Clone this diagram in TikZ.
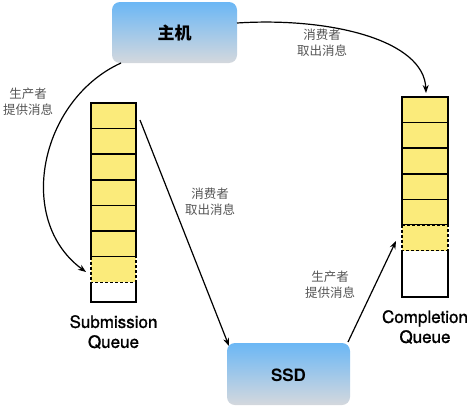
\documentclass[tikz,border=0pt]{standalone}
\usepackage{fontspec}
\setmainfont{TeX Gyre Heros}
\newfontfamily\medfont[FakeBold=1.2]{TeX Gyre Heros}
\newfontfamily\cjk{Noto Sans CJK SC}
\usetikzlibrary{arrows.meta}
\definecolor{qyellow}{HTML}{FBEB7B}
\definecolor{btop}{HTML}{6BB7F5}
\definecolor{bbot}{HTML}{D4D8DD}
\definecolor{lblgray}{HTML}{555555}
\tikzset{
  box/.style={rounded corners=8pt, top color=btop, bottom color=bbot, draw=none},
  cell/.style={draw=black, line width=1.7pt, fill=qyellow},
  dcell/.style={draw=black, line width=1.4pt, fill=qyellow, dash pattern=on 3pt off 2pt},
  qline/.style={line width=1.7pt},
  conn/.style={line width=1.2pt, -{Stealth[length=8pt,width=6pt]}},
  lbl/.style={font=\cjk\fontsize{12.5}{16}\selectfont, text=lblgray, align=center},
  qlbl/.style={font=\medfont\fontsize{17}{20}\selectfont, align=center},
}
\begin{document}
\begin{tikzpicture}[x=1pt,y=-1pt]
\useasboundingbox (0,0) rectangle (474,407);
% boxes
\path[box] (112,2) rectangle (237,63);
\node[font=\cjk\bfseries\fontsize{17}{20}\selectfont] (host) at (174.5,33) {主机};
\path[box] (227,343) rectangle (350,405);
\node[font=\bfseries\fontsize{17}{20}\selectfont] (ssd) at (288.5,375) {SSD};
% submission queue
\foreach \i in {0,...,5}{
  \path[cell] (91,{103+25.6*\i}) rectangle (136,{128.6+25.6*\i});
}
\draw[qline] (91,282.6) -- (91,302) -- (136,302) -- (136,282.6);
\path[dcell] (91,256.6) rectangle (136,282.2);
\node[qlbl] (sq) at (113.5,332) {Submission\\Queue};
% completion queue
\foreach \i in {0,...,4}{
  \path[cell] (402,{97+25.6*\i}) rectangle (448,{122.6+25.6*\i});
}
\draw[qline] (402,250.6) -- (402,297) -- (448,297) -- (448,250.6);
\path[dcell] (402,225) rectangle (448,250.6);
\node[qlbl] (cq) at (425,327) {Completion\\Queue};
% connector endpoints
\coordinate (h1) at (121,63);
\coordinate (sqin) at (86,272);
\coordinate (h2) at (237,23);
\coordinate (cqin) at (426,93);
\coordinate (sqout) at (140,120);
\coordinate (ssdin) at (229,346);
\coordinate (ssdout) at (348,342);
\coordinate (cqside) at (396,241);
% connectors
\draw[conn] (h1) .. controls (40,100) and (15,220) .. (sqin);
\draw[conn] (h2) .. controls (330,17) and (424,40) .. (cqin);
\draw[conn] (sqout) -- (ssdin);
\draw[conn] (ssdout) -- (cqside);
% labels
\node[lbl] (l1) at (28,102) {生产者\\提供消息};
\node[lbl] (l2) at (322,43) {消费者\\取出消息};
\node[lbl] (l3) at (210,202) {消费者\\取出消息};
\node[lbl] (l4) at (330,285) {生产者\\提供消息};
\end{tikzpicture}
\end{document}
